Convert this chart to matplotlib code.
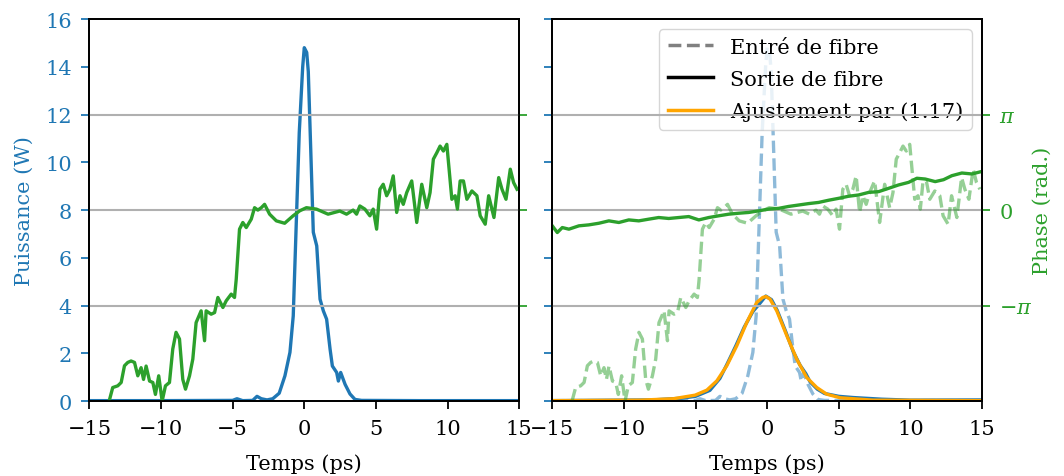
import numpy as np
import matplotlib
matplotlib.use("Agg")
import matplotlib.pyplot as plt
from matplotlib.lines import Line2D

plt.rcParams['font.family'] = 'DejaVu Serif'
plt.rcParams['mathtext.fontset'] = 'dejavuserif'
plt.rcParams['font.size'] = 15
plt.rcParams['axes.linewidth'] = 1.3
plt.rcParams['xtick.major.size'] = 6
plt.rcParams['ytick.major.size'] = 6
plt.rcParams['xtick.major.width'] = 1.3
plt.rcParams['ytick.major.width'] = 1.3
plt.rcParams['xtick.major.pad'] = 7
plt.rcParams['ytick.major.pad'] = 6.5

# input power (W) vs time (ps)
t_in = [-15, -10, -5, -4.7, -4.3, -3.6, -3.3, -3.0, -2.6, -2.2, -1.75, -1.58, -1.35, -1.0,
        -0.77, -0.58, -0.35, -0.11, 0.0, 0.17, 0.28, 0.45, 0.63, 0.87, 1.1, 1.33, 1.56,
        1.8, 1.96, 2.26, 2.38, 2.54, 2.85, 3.19, 3.54, 4.0, 8.0, 15]
p_in = [0.02, 0.02, 0.03, 0.1, 0.02, 0.03, 0.2, 0.1, 0.05, 0.1, 0.33, 0.64, 1.06, 2.04,
        3.57, 7.07, 11.25, 14.0, 14.8, 14.6, 13.8, 10.55, 7.07, 6.5, 4.27, 3.78, 3.43,
        2.18, 1.47, 1.2, 0.84, 1.2, 0.7, 0.3, 0.07, 0.03, 0.02, 0.02]

# input phase (units of pi)
tph_in = [-13.62, -13.37, -13.02, -12.78, -12.55, -12.32, -12.09, -11.85, -11.62, -11.39,
          -11.22, -11.04, -10.8, -10.57, -10.39, -10.16, -9.92, -9.69, -9.41, -9.18,
          -8.95, -8.71, -8.48, -8.29, -8.01, -7.78, -7.55, -7.2, -6.96, -6.85, -6.5,
          -6.26, -6.03, -5.68, -5.45, -5.1, -4.87, -4.75, -4.52, -4.29, -4.05, -3.7,
          -3.47, -3.24, -3.0, -2.77, -2.42, -1.95, -1.37, -0.78, -0.32, 0.15, 0.85,
          1.66, 2.48, 2.95, 3.41, 3.65, 3.88, 4.23, 4.58, 4.81, 5.05, 5.28, 5.51, 5.75,
          5.98, 6.21, 6.45, 6.68, 6.91, 7.15, 7.5, 7.85, 8.2, 8.55, 8.78, 9.01, 9.25,
          9.48, 9.71, 9.95, 10.13, 10.3, 10.53, 10.69, 10.88, 11.11, 11.35, 11.7, 12.05,
          12.28, 12.63, 12.87, 13.24, 13.57, 13.8, 14.08, 14.38, 14.61, 14.85]
ph_in = [-2.0, -1.858, -1.84, -1.805, -1.63, -1.595, -1.58, -1.595, -1.735, -1.65,
         -1.773, -1.633, -1.79, -1.805, -1.93, -1.735, -2.0, -1.84, -1.805, -1.455,
         -1.28, -1.35, -1.773, -1.875, -1.735, -1.56, -1.178, -1.055, -1.368, -1.055, -1.09,
         -1.073, -0.915, -1.02, -0.95, -0.88, -0.915, -0.725, -0.2, -0.13, -0.183, -0.095,
         0.025, 0.0, 0.025, 0.06, -0.043, -0.113, -0.138, -0.06, -0.008, 0.025, 0.01,
         -0.043, -0.01, -0.043, 0.0, -0.043, 0.043, 0.01, -0.06, 0.01, -0.2, 0.218, 0.27, 0.15,
         0.218, 0.358, -0.025, 0.15, 0.06, 0.183, 0.305, -0.13, 0.27, 0.025, 0.183, 0.533, 0.6,
         0.67, 0.618, 0.688, 0.393, 0.113, 0.15, 0.01, 0.305, 0.305, 0.113, 0.2, 0.15,
         -0.06, -0.148, 0.15, -0.078, 0.34, 0.218, 0.113, 0.428, 0.288, 0.218]

# output power (W)
t_out = [-15, -8, -6, -5, -4, -3.3, -2.8, -2.2, -1.6, -1.0, -0.5, -0.1, 0.3, 0.7, 1.3,
         1.8, 2.3, 2.7, 3.0, 3.5, 4.0, 5, 6, 8, 10, 15]
p_out = [0.02, 0.05, 0.12, 0.2, 0.45, 0.95, 1.55, 2.3, 3.1, 3.75, 4.1, 4.4, 4.25, 3.8, 2.9,
         2.1, 1.5, 1.15, 0.8, 0.5, 0.32, 0.2, 0.15, 0.08, 0.04, 0.05]

# fit (1.17)
t_fit = [-15, -8.86, -6.54, -5.03, -4.21, -3.51, -2.82, -2.12, -1.42, -0.73, -0.31, -0.08,
         0.2, 0.67, 1.37, 2.06, 2.76, 3.46, 4.16, 5.1, 7.4, 15]
p_fit = [0.02, 0.04, 0.1, 0.25, 0.46, 0.85, 1.48, 2.32, 3.3, 4.13, 4.34, 4.38, 4.27, 3.78,
         2.74, 1.76, 0.99, 0.57, 0.29, 0.14, 0.04, 0.02]

# output phase (units of pi)
tph_out = [-15, -14.65, -14.3, -13.84, -13.14, -12.45, -11.75, -11.05, -10.35, -9.66, -8.96,
           -8.26, -7.57, -6.87, -6.17, -5.47, -4.77, -4.08, -3.38, -2.68, -1.99, -1.29,
           -0.59, 0.1, 0.8, 1.5, 2.2, 2.9, 3.59, 4.29, 4.99, 5.69, 6.38, 7.08, 7.78, 8.48,
           9.17, 9.87, 10.45, 11.03, 11.73, 12.31, 12.89, 13.59, 14.29, 14.87]
ph_out = [-0.165, -0.235, -0.183, -0.2, -0.165, -0.155, -0.138, -0.113, -0.13, -0.103, -0.113,
          -0.095, -0.078, -0.088, -0.078, -0.068, -0.103, -0.078, -0.06, -0.043, -0.033,
          -0.025, -0.008, 0.01, 0.018, 0.038, 0.053, 0.068, 0.08, 0.103, 0.123, 0.145,
          0.158, 0.185, 0.193, 0.228, 0.263, 0.29, 0.333, 0.325, 0.298, 0.318, 0.36, 0.388,
          0.378, 0.4]

c_p = '#1f77b4'
c_ph = '#2ca02c'
lw = 2.4

fig, (ax1, ax2) = plt.subplots(1, 2, sharey=True, figsize=(10.64, 4.77), dpi=100)
fig.subplots_adjust(left=0.084, right=0.923, top=0.958, bottom=0.157, wspace=0.077)

ax1t = ax1.twinx()
ax2t = ax2.twinx()

ax1.plot(t_in, p_in, color=c_p, lw=lw)
ax1t.plot(tph_in, np.array(ph_in) * np.pi, color=c_ph, lw=lw)

ax2.plot(t_in, p_in, color=c_p, lw=lw, ls='--', alpha=0.5)
ax2.plot(t_out, p_out, color=c_p, lw=lw)
ax2.plot(t_fit, p_fit, color='orange', lw=lw)
ax2t.plot(tph_in, np.array(ph_in) * np.pi, color=c_ph, lw=lw, ls='--', alpha=0.5)
ax2t.plot(tph_out, np.array(ph_out) * np.pi, color=c_ph, lw=lw)

for ax in (ax1, ax2):
    ax.set_xlim(-15, 15)
    ax.set_xticks([-15, -10, -5, 0, 5, 10, 15])
    ax.set_xlabel('Temps (ps)', labelpad=11)
    ax.tick_params(axis='y', colors=c_p)
ax1.set_ylim(0, 16)
ax1.set_ylabel('Puissance (W)', color=c_p, labelpad=8)

for ax in (ax1t, ax2t):
    ax.set_ylim(-2 * np.pi, 2 * np.pi)
    ax.set_yticks([-np.pi, 0, np.pi])
    ax.tick_params(axis='y', colors=c_ph)
    ax.grid(True, axis='y', color='#b0b0b0', lw=1.5)
ax1t.set_yticklabels([])
ax2t.set_yticklabels([r'$-\pi$', r'$0$', r'$\pi$'])
ax2t.set_ylabel('Phase (rad.)', color=c_ph, labelpad=0)

handles = [Line2D([], [], color='gray', ls='--', lw=2.5),
           Line2D([], [], color='black', lw=2.5),
           Line2D([], [], color='orange', lw=2.5)]
ax2.legend(handles, ['Entré de fibre', 'Sortie de fibre', 'Ajustement par (1.17)'],
           loc='upper right', labelspacing=0.62, handlelength=2.2)

fig.savefig('out.png', dpi=100)
